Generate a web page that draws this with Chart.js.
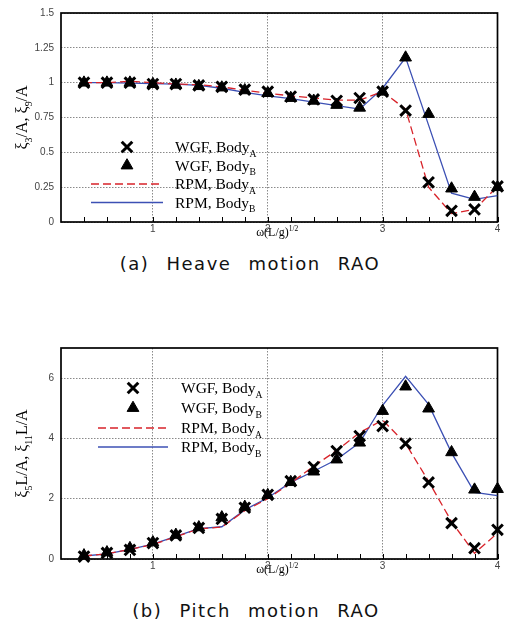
<!DOCTYPE html>
<html lang="en">
<head>
  <meta charset="UTF-8">
  <title>Heave and pitch RAO</title>
  <script src="https://cdn.jsdelivr.net/npm/chart.js"></script>
  <style>
    body {
      margin: 0;
      background: #fff;
      width: 508px;
      height: 635px;
      position: relative;
      overflow: hidden;
    }
    canvas {
      position: absolute;
      left: 0;
    }
    #chartA { top: 0; }
    #chartB { top: 330px; }
    .caption {
      position: absolute;
      left: 0;
      width: 508px;
      text-align: center;
      font-family: "DejaVu Sans", sans-serif;
      font-size: 18px;
      letter-spacing: 1.5px;
      word-spacing: 10px;
      color: #111;
      line-height: 20px;
    }
  </style>
</head>
<body>
  <canvas id="chartA" width="508" height="250"></canvas>
  <canvas id="chartB" width="508" height="260"></canvas>
  <div class="caption" style="top:254px; left:-4px">(a) Heave motion RAO</div>
  <div class="caption" style="top:601px; left:2px">(b) Pitch motion RAO</div>

  <script>
    // omega (L/g)^1/2
    const xs = [0.4, 0.6, 0.8, 1.0, 1.2, 1.4, 1.6, 1.8, 2.0, 2.2, 2.4, 2.6, 2.8, 3.0, 3.2, 3.4, 3.6, 3.8, 4.0];
    const xTicks = [1, 2, 3, 4];
    const yTicksA = [0, 0.25, 0.5, 0.75, 1, 1.25, 1.5];
    const yTicksB = [0, 2, 4, 6];

    // (a) heave
    const heaveWgfA = [1.0, 1.0, 1.0, 0.99, 0.99, 0.98, 0.97, 0.95, 0.935, 0.9, 0.88, 0.87, 0.89, 0.935, 0.8, 0.285, 0.08, 0.09, 0.255];
    const heaveWgfB = [1.0, 1.0, 1.0, 0.99, 0.985, 0.975, 0.965, 0.945, 0.925, 0.89, 0.87, 0.84, 0.82, 0.935, 1.18, 0.775, 0.24, 0.18, 0.25];
    const heaveRpmA = [1.0, 1.0, 1.01, 1.0, 0.99, 0.985, 0.97, 0.945, 0.925, 0.905, 0.89, 0.875, 0.875, 0.935, 0.81, 0.25, 0.06, 0.09, 0.255];
    const heaveRpmB = [1.0, 1.0, 0.997, 0.993, 0.99, 0.98, 0.96, 0.93, 0.905, 0.885, 0.86, 0.835, 0.81, 0.96, 1.18, 0.695, 0.207, 0.162, 0.19];

    // (b) pitch
    const pitchWgfA = [0.08, 0.2, 0.3, 0.53, 0.78, 1.03, 1.33, 1.7, 2.13, 2.58, 3.05, 3.58, 4.08, 4.41, 3.83, 2.54, 1.19, 0.36, 0.97];
    const pitchWgfB = [0.12, 0.22, 0.36, 0.55, 0.8, 1.05, 1.38, 1.73, 2.12, 2.55, 2.9, 3.3, 3.86, 4.91, 5.72, 4.99, 3.54, 2.3, 2.32];
    const pitchRpmA = [0.1, 0.17, 0.32, 0.48, 0.74, 1.0, 1.06, 1.6, 2.0, 2.52, 3.08, 3.6, 4.19, 4.61, 3.83, 2.58, 1.24, 0.19, 0.86];
    const pitchRpmB = [0.1, 0.17, 0.32, 0.49, 0.75, 1.01, 1.07, 1.63, 2.03, 2.54, 2.91, 3.3, 3.86, 5.1, 6.06, 5.13, 3.52, 2.21, 2.1];

    const RED = '#d8232a';
    const BLUE = '#3c50b4';
    const SERIF = '"Liberation Serif", "Times New Roman", serif';

    function pts(ys) {
      return xs.map((x, i) => ({ x: x, y: ys[i] }));
    }

    // text with sub/superscripts
    function richWidth(ctx, parts, size) {
      let w = 0;
      parts.forEach(p => {
        ctx.font = ((p.sub || p.sup) ? size * 0.62 : size) + 'px ' + SERIF;
        w += ctx.measureText(p.t).width;
      });
      return w;
    }
    function drawRich(ctx, parts, x, y, size) {
      let cx = x;
      parts.forEach(p => {
        ctx.font = ((p.sub || p.sup) ? size * 0.62 : size) + 'px ' + SERIF;
        const dy = p.sub ? size * 0.3 : (p.sup ? -size * 0.45 : 0);
        ctx.fillText(p.t, cx, y + dy);
        cx += ctx.measureText(p.t).width;
      });
    }

    const decor = {
      id: 'decor',
      beforeDatasetsDraw(chart) {
        const ctx = chart.ctx, a = chart.chartArea, sx = chart.scales.x;
        ctx.save();
        ctx.strokeStyle = '#000';
        ctx.lineWidth = 1;
        xs.forEach(v => {
          const px = Math.round(sx.getPixelForValue(v)) + 0.5;
          ctx.beginPath();
          ctx.moveTo(px, a.bottom);
          ctx.lineTo(px, a.bottom - 5);
          ctx.stroke();
        });
        ctx.lineWidth = 1.7;
        ctx.strokeRect(a.left, a.top, a.right - a.left, a.bottom - a.top);
        ctx.restore();
      },
      afterDraw(chart, args, o) {
        const ctx = chart.ctx, a = chart.chartArea;
        ctx.save();
        ctx.fillStyle = '#000';
        ctx.textBaseline = 'alphabetic';

        // x title
        const xt = [{ t: 'ω(L/g)' }, { t: '1/2', sup: true }];
        const xw = richWidth(ctx, xt, 12);
        drawRich(ctx, xt, (a.left + a.right) / 2 - xw / 2 - 2, a.bottom + 14, 12);

        // y title
        const yw = richWidth(ctx, o.yTitle, 16);
        ctx.save();
        ctx.translate(27, (a.top + a.bottom) / 2);
        ctx.rotate(-Math.PI / 2);
        drawRich(ctx, o.yTitle, -yw / 2, 0, 16);
        ctx.restore();

        // legend
        chart.data.datasets.forEach((ds, i) => {
          const ry = o.rows[i];
          if (ds.showLine) {
            ctx.save();
            ctx.strokeStyle = ds.borderColor;
            ctx.lineWidth = ds.borderWidth;
            ctx.setLineDash(ds.borderDash || []);
            ctx.beginPath();
            ctx.moveTo(o.lineX0, ry);
            ctx.lineTo(o.lineX1, ry);
            ctx.stroke();
            ctx.restore();
          } else {
            ctx.save();
            ctx.strokeStyle = '#000';
            ctx.fillStyle = '#000';
            ctx.lineWidth = ds.pointBorderWidth;
            Chart.helpers.drawPoint(ctx, { pointStyle: ds.pointStyle, radius: ds.pointRadius, borderWidth: ds.pointBorderWidth, rotation: 0 }, o.markX, ry);
            ctx.restore();
          }
          drawRich(ctx, [{ t: ds.label }, { t: ds.sub, sub: true }], o.textX, ry + 5, 15.5);
        });
        ctx.restore();
      }
    };

    function makeChart(id, sets, yTicks, yMax, padTop, xAxisH, legendOpts) {
      const markerSet = (data, style, r, bw) => ({
        data: pts(data),
        showLine: false,
        pointStyle: style,
        pointRadius: r,
        pointBorderWidth: bw,
        pointBackgroundColor: '#000',
        pointBorderColor: '#000',
        clip: false
      });
      const lineSet = (data, color, dash) => ({
        data: pts(data),
        showLine: true,
        borderColor: color,
        borderWidth: 1.3,
        borderDash: dash,
        pointRadius: 0,
        fill: false,
        tension: 0
      });
      const d0 = Object.assign(markerSet(sets[0], 'crossRot', 7.5, 3), { label: 'WGF, Body', sub: 'A' });
      const d1 = Object.assign(markerSet(sets[1], 'triangle', 6.8, 1), { label: 'WGF, Body', sub: 'B' });
      const d2 = Object.assign(lineSet(sets[2], RED, [8, 4]), { label: 'RPM, Body', sub: 'A' });
      const d3 = Object.assign(lineSet(sets[3], BLUE, []), { label: 'RPM, Body', sub: 'B' });

      return new Chart(document.getElementById(id), {
        type: 'scatter',
        data: { datasets: [d0, d1, d2, d3] },
        options: {
          responsive: false,
          animation: false,
          devicePixelRatio: 1,
          layout: { padding: { top: padTop, right: 4, left: 0, bottom: 0 } },
          plugins: {
            legend: { display: false },
            tooltip: { enabled: false },
            decor: legendOpts
          },
          scales: {
            x: {
              type: 'linear',
              min: 0.2,
              max: 4,
              afterBuildTicks: s => { s.ticks = xTicks.map(v => ({ value: v })); },
              afterFit: s => { s.height = xAxisH; },
              ticks: {
                padding: 1,
                color: '#444',
                font: { family: '"Liberation Sans", Arial, sans-serif', size: 10 },
                callback: v => String(v)
              },
              grid: { color: '#8a8a8a', lineWidth: 1, drawTicks: false },
              border: { display: false, dash: [1.5, 1.5] }
            },
            y: {
              type: 'linear',
              min: 0,
              max: yMax,
              afterBuildTicks: s => { s.ticks = yTicks.map(v => ({ value: v })); },
              afterFit: s => { s.width = 61; },
              ticks: {
                padding: 7,
                color: '#444',
                font: { family: '"Liberation Sans", Arial, sans-serif', size: 10 },
                callback: v => String(v)
              },
              grid: { color: '#8a8a8a', lineWidth: 1, drawTicks: false },
              border: { display: false, dash: [1.5, 1.5] }
            }
          }
        },
        plugins: [decor]
      });
    }

    makeChart('chartA', [heaveWgfA, heaveWgfB, heaveRpmA, heaveRpmB], yTicksA, 1.5, 12, 28, {
      yTitle: [{ t: 'ξ' }, { t: '3', sub: true }, { t: '/A, ξ' }, { t: '9', sub: true }, { t: '/A' }],
      rows: [147, 165.5, 184, 202.5],
      markX: 127, lineX0: 91, lineX1: 163, textX: 175
    });

    makeChart('chartB', [pitchWgfA, pitchWgfB, pitchRpmA, pitchRpmB], yTicksB, 7, 18, 31, {
      yTitle: [{ t: 'ξ' }, { t: '5', sub: true }, { t: 'L/A, ξ' }, { t: '11', sub: true }, { t: 'L/A' }],
      rows: [58, 78, 98, 117],
      markX: 133, lineX0: 98, lineX1: 168, textX: 181
    });
  </script>
</body>
</html>
